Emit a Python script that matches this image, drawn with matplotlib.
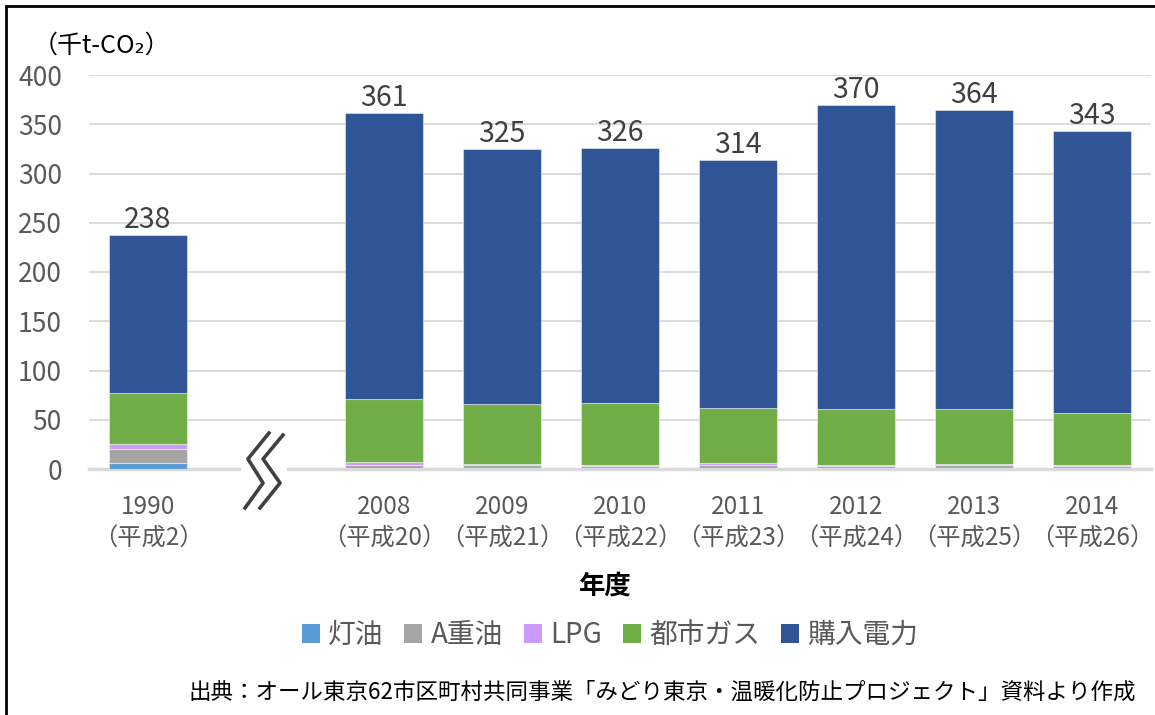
import numpy as np
import matplotlib
matplotlib.use("Agg")
from matplotlib import pyplot as plt
from matplotlib.patches import Patch, Rectangle

plt.rcParams['font.family'] = ['Noto Sans CJK JP', 'DejaVu Sans']

# データ（千t-CO2）
years = ["1990\n（平成2）", "2008\n（平成20）", "2009\n（平成21）", "2010\n（平成22）",
         "2011\n（平成23）", "2012\n（平成24）", "2013\n（平成25）", "2014\n（平成26）"]
kerosene = [6, 1.5, 1, 1, 1.5, 1, 1.5, 1]
heavy_oil_a = [14, 3, 3, 2, 2.5, 2, 2.5, 2]
lpg = [5, 2.5, 1, 1, 2, 1, 1, 1]
city_gas = [52, 64, 61, 63, 56, 57, 56, 53]
electricity = [161, 290, 259, 259, 252, 309, 303, 286]
totals = [238, 361, 325, 326, 314, 370, 364, 343]

series_names = ["灯油", "A重油", "LPG", "都市ガス", "購入電力"]
colors = ["#5B9BD5", "#A5A5A5", "#CC99FF", "#70AD47", "#2F5597"]

fig = plt.figure(figsize=(11.55, 7.15), dpi=100)
ax = fig.add_axes([89 / 1155, 1 - 469 / 715, 1062 / 1155, 394 / 715])

# 1990 と 2008 の間に空き
idx = np.arange(len(years))
x = idx + (idx > 0)

bottom = np.zeros(len(years))
for vals, c in zip([kerosene, heavy_oil_a, lpg, city_gas, electricity], colors):
    ax.bar(x, vals, bottom=bottom, width=0.66, color=c,
           edgecolor=(1, 1, 1, 0.45), linewidth=0.8, zorder=3)
    bottom += np.array(vals)

for xi, t in zip(x, totals):
    ax.annotate(str(t), (xi, t), xytext=(0, 0), textcoords="offset points",
                ha="center", va="bottom", fontsize=20.5, color="#404040")

ax.set_xlim(-0.5, 8.5)
ax.set_ylim(0, 400)
ax.set_yticks(np.arange(0, 401, 50))
ax.set_xticks(x)
ax.set_xticklabels(years, fontsize=17.5, color="#595959", linespacing=1.3)
ax.tick_params(axis="y", labelsize=19, labelcolor="#595959", length=0, pad=19.5)
ax.tick_params(axis="x", length=0, pad=18)
for s in ax.spines.values():
    s.set_visible(False)
ax.grid(axis="y", color="#D9D9D9", linewidth=1.3, zorder=0)
ax.set_axisbelow(True)
ax.axhline(0, color="#D9D9D9", linewidth=2.5, zorder=2, clip_on=False)

# 波線（省略記号）
ax.plot([0.79, 1.18], [0, 0], color="white", linewidth=6, zorder=4,
        solid_capstyle="butt", clip_on=False)
ax.plot([1.025, 0.847, 0.975, 0.822], [36.5, 10.2, -14.2, -39.6],
        color="#404040", linewidth=2.6, zorder=5, clip_on=False)
ax.plot([1.144, 0.975, 1.119, 0.949], [34.5, 10.2, -14.2, -39.6],
        color="#404040", linewidth=2.6, zorder=5, clip_on=False)

fig.text(33 / 1155, 1 - 46 / 715, "（千t-CO₂）", fontsize=18, color="black",
         va="center", ha="left")
fig.text(605 / 1155, 1 - 586 / 715, "年度", fontsize=19, color="black",
         ha="center", va="center", fontweight="bold")

handles = [Patch(facecolor=c, edgecolor="none") for c in colors]
fig.legend(handles, series_names, loc="center", bbox_to_anchor=(610 / 1155, 1 - 635 / 715),
           ncol=5, frameon=False, fontsize=20, labelcolor="#595959",
           handlelength=0.65, handleheight=0.65, handletextpad=0.3, columnspacing=0.75)

fig.text(188 / 1155, 1 - 692 / 715,
         "出典：オール東京62市区町村共同事業「みどり東京・温暖化防止プロジェクト」資料より作成",
         fontsize=16.2, color="black", ha="left", va="center")

# 枠線
fig.patches.append(Rectangle((6 / 1155, -0.1), 1.2, 1 - 6 / 715 + 0.1,
                             transform=fig.transFigure, fill=False,
                             edgecolor="black", linewidth=2))

fig.savefig("out.png", dpi=100)
